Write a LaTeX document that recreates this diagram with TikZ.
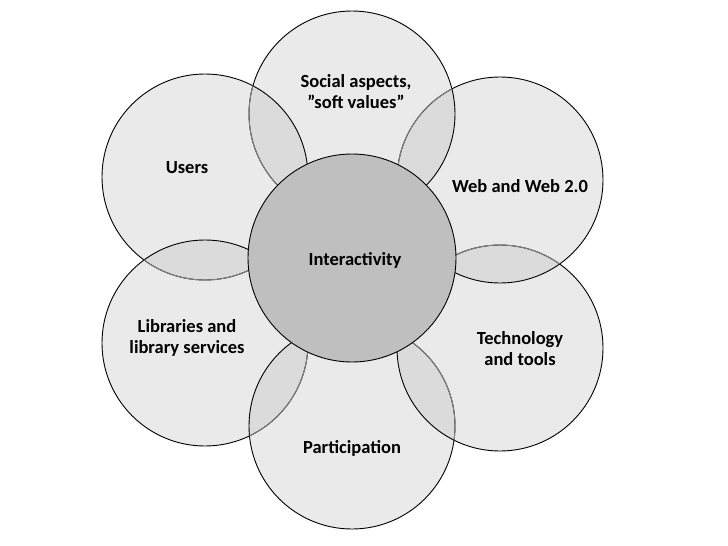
\documentclass[tikz,border=0pt]{standalone}
\usepackage{fontspec}
\setmainfont{Carlito}
\begin{document}
\begin{tikzpicture}[x=1pt,y=-1pt,
  outerfill/.style={fill=outergray},
  lensfill/.style={fill=lensgray},
  rim/.style={draw=black,line width=0.9pt},
  softrim/.style={draw=rimgray,line width=0.9pt},
  label/.style={align=center,font=\fontsize{18.5}{21}\selectfont\bfseries,text=black}]
\definecolor{outergray}{HTML}{EAEAEA}
\definecolor{lensgray}{HTML}{DBDBDB}
\definecolor{centergray}{HTML}{BFBFBF}
\definecolor{rimgray}{HTML}{858585}
\useasboundingbox (0,0) rectangle (728,546);
\fill[white] (0,0) rectangle (728,546);
\def\R{103pt}
\coordinate (ctop) at (352,114);
\coordinate (cweb) at (500,180);
\coordinate (ctech) at (500,348);
\coordinate (cpart) at (352,426);
\coordinate (clib) at (205,343);
\coordinate (cuser) at (205,177);
\coordinate (cmid) at (352,258);
% fills
\foreach \c in {ctop,cweb,ctech,cpart,clib,cuser}
  \path[outerfill] (\c) circle[radius=\R];
% lenses
\foreach \a/\b in {ctop/cweb,cweb/ctech,ctech/cpart,cpart/clib,clib/cuser,cuser/ctop}{
  \begin{scope}
    \clip (\a) circle[radius=\R];
    \path[lensfill] (\b) circle[radius=\R];
  \end{scope}
}
% outlines
\foreach \c in {ctop,cweb,ctech,cpart,clib,cuser}
  \path[rim] (\c) circle[radius=\R];
% softened outline parts
\foreach \a/\b in {ctop/cuser,cweb/ctop,ctech/cweb,cpart/ctech,clib/cpart,cuser/clib}{
  \begin{scope}
    \clip (\b) circle[radius=\R];
    \path[softrim] (\a) circle[radius=\R];
  \end{scope}
}
% centre
\path[fill=centergray,rim] (cmid) circle[radius=104pt];
% labels
\node[label] (social) at (356,92) {Social aspects,\\”soft values”};
\node[label] (users) at (187,168) {Users};
\node[label] (web) at (520,186) {Web and Web 2.0};
\node[label] (inter) at (355,260) {Interactivity};
\node[label] (lib) at (187,338) {Libraries and\\library services};
\node[label] (tech) at (520,349) {Technology\\and tools};
\node[label] (part) at (352,448) {Participation};
\end{tikzpicture}
\end{document}
